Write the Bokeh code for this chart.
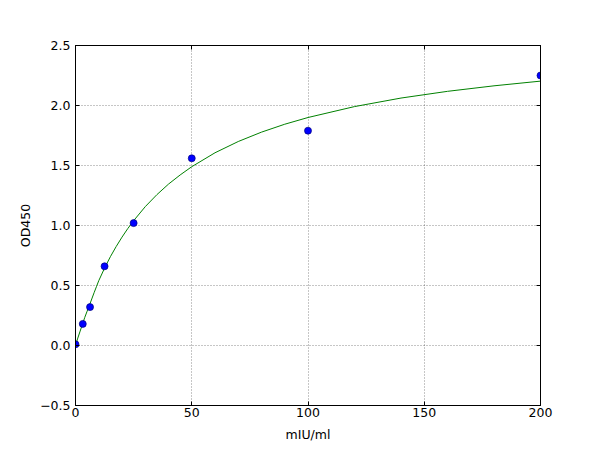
from bokeh.plotting import figure
from bokeh.models import LinearAxis, FixedTicker, CustomJSTickFormatter, Range1d
from bokeh.embed import file_html
from bokeh.resources import INLINE

# Measured standards
conc = [0, 3.125, 6.25, 12.5, 25, 50, 100, 200]
od = [0.01, 0.18, 0.32, 0.66, 1.02, 1.56, 1.79, 2.25]

# Fitted curve
curve_x = [0, 1, 2, 3, 4, 5, 6, 7, 8, 9, 10, 12.5, 15, 17.5, 20, 22.5, 25, 30, 35,
           40, 45, 50, 60, 70, 80, 90, 100, 120, 140, 160, 180, 200]
curve_y = [0.0, 0.062, 0.12, 0.178, 0.235, 0.286, 0.335, 0.388, 0.44, 0.49, 0.54,
           0.645, 0.74, 0.825, 0.903, 0.975, 1.04, 1.157, 1.257, 1.345, 1.421,
           1.49, 1.606, 1.70, 1.778, 1.844, 1.90, 1.991, 2.062, 2.118, 2.164,
           2.203]

x_ticks = [0, 50, 100, 150, 200]
y_ticks = [-0.5, 0.0, 0.5, 1.0, 1.5, 2.0, 2.5]

FONT = "DejaVu Sans"

p = figure(width=592, height=445, output_backend="svg", toolbar_location=None,
           x_range=Range1d(0, 200), y_range=Range1d(-0.5, 2.5),
           min_border_left=75, min_border_right=52, min_border_top=45,
           min_border_bottom=40)
p.background_fill_color = "white"
p.border_fill_color = "white"
p.outline_line_color = "black"
p.outline_line_width = 1

fmt = CustomJSTickFormatter(code="return tick.toFixed(1).replace('-', '\u2212');")
blank = CustomJSTickFormatter(code="return '';")

for ax in [p.xaxis[0], p.yaxis[0]]:
    ax.major_tick_in = 4
    ax.major_tick_out = 0
    ax.minor_tick_in = 0
    ax.minor_tick_out = 0
    ax.axis_line_color = "black"
    ax.major_tick_line_color = "black"
    ax.major_label_text_font = FONT
    ax.major_label_text_font_size = "12.5px"
    ax.major_label_text_color = "black"
    ax.axis_label_text_font = FONT
    ax.axis_label_text_font_size = "12.5px"
    ax.axis_label_text_font_style = "normal"
    ax.axis_label_text_color = "black"

p.xaxis[0].ticker = FixedTicker(ticks=x_ticks)
p.yaxis[0].ticker = FixedTicker(ticks=y_ticks)
p.yaxis[0].formatter = fmt
p.xaxis[0].axis_label = "mIU/ml"
p.yaxis[0].axis_label = "OD450"
p.xaxis[0].major_label_standoff = 2
p.yaxis[0].major_label_standoff = 5
p.xaxis[0].axis_label_standoff = 7
p.yaxis[0].axis_label_standoff = 4

for loc, ticks in [("above", x_ticks), ("right", y_ticks)]:
    a = LinearAxis(ticker=FixedTicker(ticks=ticks), formatter=blank)
    a.major_tick_in = 4
    a.major_tick_out = 0
    a.minor_tick_in = 0
    a.minor_tick_out = 0
    a.major_label_standoff = 0
    a.axis_line_color = "black"
    p.add_layout(a, loc)

p.xgrid.ticker = FixedTicker(ticks=x_ticks)
p.ygrid.ticker = FixedTicker(ticks=y_ticks)
for g in [p.xgrid[0], p.ygrid[0]]:
    g.grid_line_color = "black"
    g.grid_line_alpha = 0.45
    g.grid_line_dash = "1 2"
    g.grid_line_width = 1

p.line(curve_x, curve_y, line_color="#008000", line_width=1)
p.scatter(conc, od, size=7, fill_color="#0000ff", line_color="#000080", line_width=0.7)

open("out.html", "w").write(file_html(p, INLINE))
